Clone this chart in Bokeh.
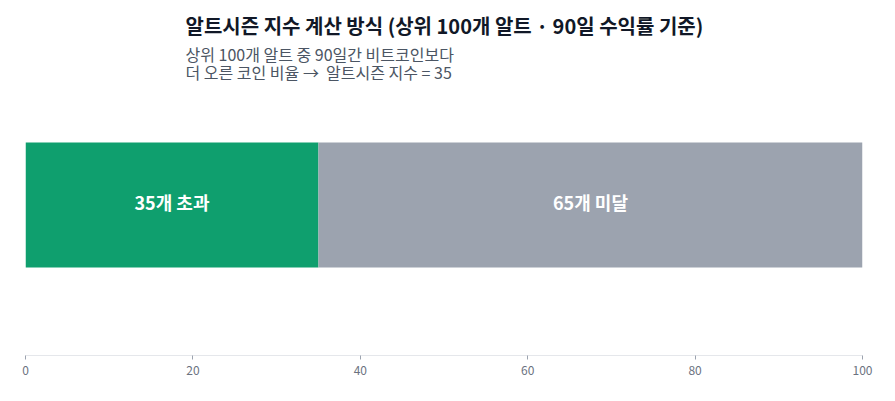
from bokeh.plotting import figure
from bokeh.models import ColumnDataSource, Range1d, Title, FixedTicker
from bokeh.core.properties import value
from bokeh.embed import file_html
from bokeh.resources import INLINE

FONT = "Noto Sans CJK KR"

categories = ["35개 초과", "65개 미달"]
counts = [35, 65]
colors = ["#0f9f6e", "#9ca3af"]
ticks = [0, 20, 40, 60, 80, 100]

title_text = "알트시즌 지수 계산 방식 (상위 100개 알트 · 90일 수익률 기준)"
sub_text = "상위 100개 알트 중 90일간 비트코인보다\n더 오른 코인 비율 →\u00a0 알트시즌 지수 = 35"

lefts = [sum(counts[:i]) for i in range(len(counts))]
rights = [l + c for l, c in zip(lefts, counts)]
mids = [(l + r) / 2 for l, r in zip(lefts, rights)]
src = ColumnDataSource(dict(cat=categories, left=lefts, right=rights, mid=mids,
                            y=[0] * len(counts), color=colors))

p = figure(width=895, height=401, output_backend="svg", toolbar_location=None,
           x_range=Range1d(0, 100), y_range=Range1d(-1.204, 0.916),
           min_border_left=25, min_border_right=33, min_border_top=90, min_border_bottom=46)
p.title = None
p.add_layout(Title(text=sub_text, text_font=FONT, text_font_size="16px", text_font_style="normal",
                   text_color="#4b5563", text_line_height=0.77, offset=160, standoff=13), "above")
p.add_layout(Title(text=title_text, text_font=FONT, text_font_size="20px", text_font_style="bold",
                   text_color="#111827", offset=160, standoff=-13), "above")

p.hbar(y="y", left="left", right="right", height=1.0, color="color", line_color=None, source=src)
p.text(x="mid", y="y", text="cat", source=src, text_align="center", text_baseline="middle",
       y_offset=-3, text_color="white", text_font=value(FONT), text_font_style="bold",
       text_font_size="18px")

p.outline_line_color = None
p.grid.visible = False
p.yaxis.visible = False
ax = p.xaxis[0]
ax.ticker = FixedTicker(ticks=ticks)
ax.axis_line_color = "#e5e7eb"
ax.major_tick_line_color = "#9ca3af"
ax.major_tick_in = 0
ax.major_tick_out = 4
ax.minor_tick_line_color = None
ax.major_label_text_font = FONT
ax.major_label_text_font_size = "12px"
ax.major_label_text_color = "#6b7280"
ax.major_label_standoff = 6
p.background_fill_color = "white"
p.border_fill_color = "white"

open("out.html", "w").write(file_html(p, INLINE))
